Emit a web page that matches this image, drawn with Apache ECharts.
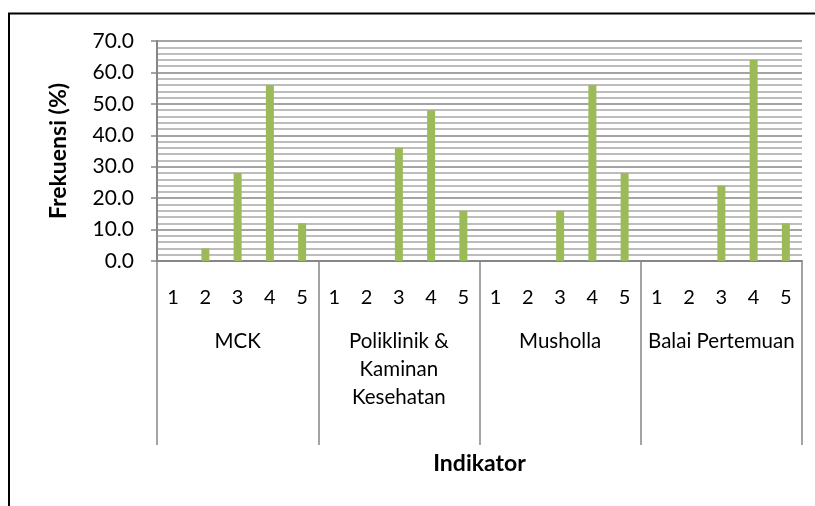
<!DOCTYPE html>
<html>
<head>
<meta charset="utf-8">
<script src="https://cdn.jsdelivr.net/npm/echarts@6/dist/echarts.min.js"></script>
<style>
  html, body { margin: 0; padding: 0; background: #fff; }
  #chart { width: 815px; height: 506px; }
</style>
</head>
<body>
<div id="chart"></div>
<script>
// indicator groups and their score levels
const groups = ['MCK', 'Poliklinik &\nKaminan\nKesehatan', 'Musholla', 'Balai Pertemuan']
const levels = ['1', '2', '3', '4', '5']

// frequency (%) per level, one array per group
const mck = [0, 4, 28, 56, 12]
const poliklinik = [0, 0, 36, 48, 16]
const musholla = [0, 0, 16, 56, 28]
const balai = [0, 0, 24, 64, 12]

const yTicks = { min: 0, max: 70, interval: 10 }

const FONT = 'Lato'
const AXIS_GRAY = '#868686'

const categories = []
groups.forEach((g) => levels.forEach((l) => categories.push(l)))
const values = [].concat(mck, poliklinik, musholla, balai)

const chart = echarts.init(document.getElementById('chart'))

chart.setOption({
  animation: false,
  textStyle: { fontFamily: FONT },
  graphic: [
    {
      type: 'rect',
      shape: { x: 9, y: 13.5, width: 900, height: 600 },
      style: { fill: 'none', stroke: '#000', lineWidth: 2 },
      silent: true,
    },
  ],
  grid: {
    left: 157,
    right: 13,
    top: 41,
    bottom: 245,
  },
  xAxis: [
    {
      type: 'category',
      data: categories,
      position: 'bottom',
      axisLine: { lineStyle: { color: AXIS_GRAY, width: 2 } },
      axisTick: { show: false },
      axisLabel: { interval: 0, color: '#000', fontSize: 20, margin: 27 },
    },
    {
      type: 'category',
      data: groups,
      position: 'bottom',
      axisLine: { show: false },
      axisTick: {
        show: true,
        length: 184,
        interval: 0,
        lineStyle: { color: AXIS_GRAY, width: 1.5 },
      },
      axisLabel: {
        interval: 0,
        color: '#000',
        fontSize: 20.5,
        lineHeight: 28,
        margin: 66,
        verticalAlign: 'top',
      },
      name: 'Indikator',
      nameLocation: 'middle',
      nameGap: 191,
      nameTextStyle: { color: '#000', fontSize: 23, fontWeight: 'bold', verticalAlign: 'top' },
    },
  ],
  yAxis: {
    type: 'value',
    min: yTicks.min,
    max: yTicks.max,
    interval: yTicks.interval,
    name: 'Frekuensi (%)',
    nameLocation: 'middle',
    nameGap: 87,
    nameTextStyle: { color: '#000', fontSize: 23, fontWeight: 'bold' },
    axisLine: { show: true, lineStyle: { color: AXIS_GRAY, width: 2 } },
    axisTick: { show: true, length: 6, lineStyle: { color: AXIS_GRAY, width: 1.5 } },
    axisLabel: {
      color: '#000',
      fontSize: 21,
      margin: 23,
      formatter: (v) => v.toFixed(1),
    },
    splitLine: { lineStyle: { color: AXIS_GRAY, width: 1.5 } },
    minorTick: { show: false, splitNumber: 5 },
    minorSplitLine: { show: true, lineStyle: { color: '#bdbdbd', width: 2 } },
  },
  series: [
    {
      type: 'bar',
      data: values,
      barWidth: 8,
      itemStyle: { color: '#9bbb59' },
    },
  ],
})
</script>
</body>
</html>
